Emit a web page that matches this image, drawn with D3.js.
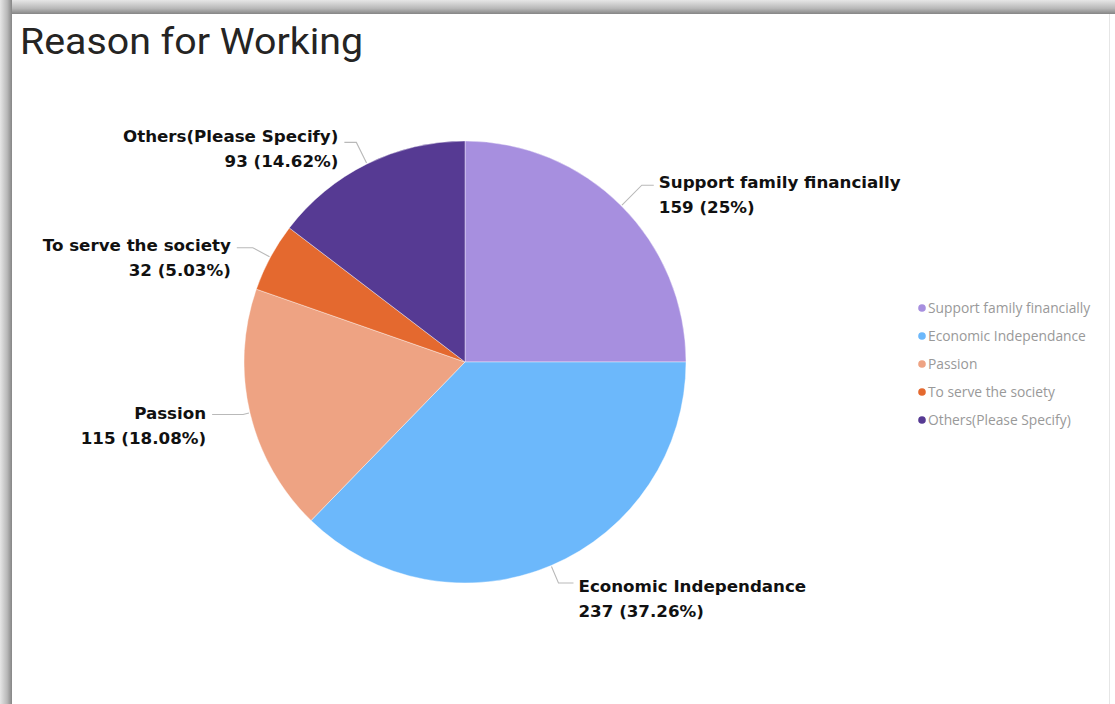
<!DOCTYPE html>
<html>
<head>
<meta charset="utf-8">
<script src="https://cdn.jsdelivr.net/npm/d3@7"></script>
<style>
  html, body { margin: 0; padding: 0; background: #ffffff; }
  svg { display: block; }
</style>
</head>
<body>
<svg id="chart" width="1115" height="704"></svg>
<script>
// Survey answers: why respondents are working
const categories = [
  "Support family financially",
  "Economic Independance",
  "Passion",
  "To serve the society",
  "Others(Please Specify)"
];
const counts = [159, 237, 115, 32, 93];
const percentLabels = ["25%", "37.26%", "18.08%", "5.03%", "14.62%"];
const sliceColors = ["#a78fdf", "#6cb8fb", "#eea383", "#e4692f", "#563a93"];

// Label placement: elbow radius of the leader line and its horizontal run
const elbowRadius = [250, 240, 228, 241, 245];
const runLength   = [12, 15, 31, 16, 12];
const firstLineDy = [-2, 4, 0, -2, -5];

const W = 1115, H = 704;
const svg = d3.select("#chart");
const defs = svg.append("defs");

// Card shadow along the top and left edges
const gTop = defs.append("linearGradient").attr("id", "shTop")
  .attr("x1", 0).attr("y1", 0).attr("x2", 0).attr("y2", 1);
gTop.append("stop").attr("offset", "0%").attr("stop-color", "#e6e6e6");
gTop.append("stop").attr("offset", "60%").attr("stop-color", "#b8b8b8");
gTop.append("stop").attr("offset", "100%").attr("stop-color", "#858585");
const gLeft = defs.append("linearGradient").attr("id", "shLeft")
  .attr("x1", 0).attr("y1", 0).attr("x2", 1).attr("y2", 0);
gLeft.append("stop").attr("offset", "0%").attr("stop-color", "#e6e6e6");
gLeft.append("stop").attr("offset", "60%").attr("stop-color", "#b8b8b8");
gLeft.append("stop").attr("offset", "100%").attr("stop-color", "#858585");

svg.append("rect").attr("x", 0).attr("y", 0).attr("width", W).attr("height", 14)
  .attr("fill", "url(#shTop)");
svg.append("rect").attr("x", 0).attr("y", 0).attr("width", 12).attr("height", H)
  .attr("fill", "url(#shLeft)");
svg.append("rect").attr("x", 12).attr("y", 14).attr("width", 1097).attr("height", H - 14)
  .attr("fill", "#ffffff");
svg.append("line").attr("x1", 1109.5).attr("x2", 1109.5).attr("y1", 14).attr("y2", H)
  .attr("stroke", "#e6e6e6");

// Title
svg.append("text")
  .attr("x", 20).attr("y", 54)
  .attr("font-family", "Roboto, 'DejaVu Sans', sans-serif")
  .attr("font-size", 37)
  .attr("font-weight", 400)
  .attr("textLength", 343)
  .attr("lengthAdjust", "spacingAndGlyphs")
  .attr("fill", "#252423")
  .text("Reason for Working");

// Pie
const cx = 465, cy = 362, R = 221;
const data = categories.map((c, i) => ({ name: c, value: counts[i], pct: percentLabels[i], i }));

const pie = d3.pie().value(d => d.value).sort(null);
const arcs = pie(data);
const arc = d3.arc().innerRadius(0).outerRadius(R);
const color = d3.scaleOrdinal().domain(categories).range(sliceColors);

const gPie = svg.append("g").attr("transform", `translate(${cx},${cy})`);
gPie.selectAll("path.slice")
  .data(arcs)
  .enter().append("path")
  .attr("class", "slice")
  .attr("d", arc)
  .attr("fill", d => color(d.data.name))
  .attr("stroke", "#ffffff")
  .attr("stroke-width", 0.4);

// Leader lines and data labels
const polar = (a, r) => [Math.sin(a) * r, -Math.cos(a) * r];
arcs.forEach(d => {
  const i = d.data.i;
  const mid = (d.startAngle + d.endAngle) / 2;
  const right = Math.sin(mid) >= 0;
  const p0 = polar(mid, R + 1);
  const p1 = polar(mid, elbowRadius[i]);
  const p2 = [p1[0] + (right ? runLength[i] : -runLength[i]), p1[1]];

  gPie.append("polyline")
    .attr("points", [p0, p1, p2].map(p => p.join(",")).join(" "))
    .attr("fill", "none")
    .attr("stroke", "#b9b9b9")
    .attr("stroke-width", 1.1);

  const tx = p2[0] + (right ? 5 : -6);
  const ty = p1[1] + 5 + firstLineDy[i];
  const t = gPie.append("text")
    .attr("x", tx).attr("y", ty)
    .attr("text-anchor", right ? "start" : "end")
    .attr("font-family", "'DejaVu Sans', sans-serif")
    .attr("font-weight", "bold")
    .attr("font-size", 16.7)
    .attr("fill", "#111111");
  t.append("tspan").attr("x", tx).text(d.data.name);
  t.append("tspan").attr("x", tx).attr("dy", 25)
    .text(`${d.data.value} (${d.data.pct})`);
});

// Legend
const legendY = d3.scalePoint().domain(categories).range([308, 420]);
const gLeg = svg.append("g");
categories.forEach(c => {
  const y = legendY(c);
  gLeg.append("circle").attr("cx", 922).attr("cy", y).attr("r", 3.8)
    .attr("fill", color(c));
  gLeg.append("text").attr("x", 928).attr("y", y).attr("dy", "0.35em")
    .attr("font-family", "'Open Sans', Lato, sans-serif")
    .attr("font-size", 13.8)
    .attr("fill", "#999999")
    .text(c);
});
</script>
</body>
</html>
